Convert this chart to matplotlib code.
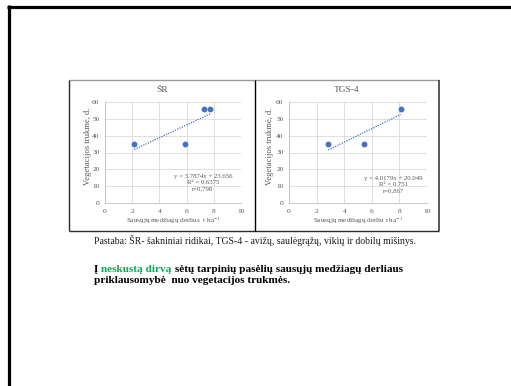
import matplotlib
matplotlib.use("Agg")
import matplotlib.pyplot as plt
from matplotlib.lines import Line2D
from matplotlib.text import Annotation
from matplotlib.transforms import Affine2D

# --- data -----------------------------------------------------------------
sr_yield = [2.15, 5.85, 7.3, 7.75]        # t/ha
sr_days = [35, 35, 56, 56]                # vegetation length, d
sr_slope, sr_intercept = 3.7874, 23.656
sr_r2, sr_r = "0.6375", "0,798"

tgs_yield = [2.85, 5.45, 8.1]
tgs_days = [35, 35, 56]
tgs_slope, tgs_intercept = 4.0179, 20.049
tgs_r2, tgs_r = "0.751", "0,867"

x_ticks = [0, 2, 4, 6, 8, 10]
y_ticks = [0, 10, 20, 30, 40, 50, 60]

W, H = 511, 386
plt.rcParams["font.family"] = ["Liberation Serif", "DejaVu Serif"]
plt.rcParams["mathtext.fontset"] = "stix"

fig = plt.figure(figsize=(W / 100, H / 100), dpi=100)
fig.patch.set_facecolor("white")
# pixel coordinates, origin at the top-left corner
pix = Affine2D().scale(1 / W, -1 / H).translate(0, 1) + fig.transFigure


def hline(x0, x1, y, color, lw):
    fig.add_artist(Line2D([x0, x1], [y, y], transform=pix, color=color, lw=lw,
                          solid_capstyle="butt"))


def vline(x, y0, y1, color, lw):
    fig.add_artist(Line2D([x, x], [y0, y1], transform=pix, color=color, lw=lw,
                          solid_capstyle="butt"))


# slide frame
hline(7, W, 6.5, "black", 2.3)
vline(8.5, 5, H, "black", 2.3)

# chart frame with two panels
hline(69, 439, 80, "#9a9a9a", 1.0)
hline(69, 439, 230.5, "#2b2b2b", 1.0)
vline(69, 80, 231, "#2b2b2b", 1.0)
vline(439, 80, 231, "#3a3a3a", 1.2)
vline(255, 80, 231, "black", 1.0)

GREY = "#595959"
BLUE = "#4472C4"


def panel(rect, xs, ys, slope, intercept, r2, r, title, title_x, xlabel,
          ylabel_x, eq_pos):
    x0, y0, x1, y1 = rect
    ax = fig.add_axes([x0 / W, 1 - y1 / H, (x1 - x0) / W, (y1 - y0) / H])
    ax.set_xlim(0, 10)
    ax.set_ylim(0, 60)
    ax.set_xticks(x_ticks)
    ax.set_yticks(y_ticks)
    ax.grid(True, color="#d9d9d9", lw=0.6)
    ax.set_axisbelow(True)
    for s in ("top", "right"):
        ax.spines[s].set_visible(False)
    for s in ("left", "bottom"):
        ax.spines[s].set_color("#bfbfbf")
        ax.spines[s].set_linewidth(0.6)
    ax.tick_params(length=0, labelsize=5.3, labelcolor=GREY, pad=4)

    ax.plot(xs, ys, "o", color=BLUE, ms=3.2, zorder=3)
    lo, hi = min(xs), max(xs)
    ax.plot([lo, hi], [slope * lo + intercept, slope * hi + intercept],
            ls=(0, (1, 1)), color=BLUE, lw=0.9, zorder=2)

    ax.text(eq_pos[0], eq_pos[1],
            f"y = {slope}x + {intercept}\nR² = {r2}\nr={r}",
            transform=ax.transAxes, ha="center", va="center",
            fontsize=4.9, color=GREY, linespacing=1.25)

    fig.text(title_x / W, 1 - 90 / H, title, ha="center", va="center",
             fontsize=6.8, color=GREY)
    fig.text((x0 + x1) / 2 / W, 1 - 220.5 / H, xlabel, ha="center",
             va="center", fontsize=5.1, color=GREY)
    fig.text(ylabel_x / W, 1 - 146 / H, "Vegetacijos trukmė, d.",
             rotation=90, ha="center", va="center", fontsize=6.2, color=GREY)
    return ax


panel((105, 102, 241, 203), sr_yield, sr_days, sr_slope, sr_intercept,
      sr_r2, sr_r, "ŠR", 162, r"Sausųjų medžiagų derlius  t ha$^{-1}$", 88,
      (0.72, 0.20))
panel((289, 102, 427, 203), tgs_yield, tgs_days, tgs_slope, tgs_intercept,
      tgs_r2, tgs_r, "TGS-4", 347, r"Sausųjų medžiagų derliu t ha$^{-1}$", 270,
      (0.754, 0.18))

# footnote
fig.text(94 / W, 1 - 240 / H,
         "Pastaba: ŠR- šakniniai ridikai, TGS-4 - avižų, saulėgrąžų, vikių ir dobilų mišinys.",
         ha="left", va="center", fontsize=7.0, color="#1a1a1a")

# caption; the soil type is highlighted in green, pieces are chained so they abut
CAP_SIZE = 8.1
pieces = [("Į ", "black"), ("neskustą dirvą", "#00B050"),
          (" sėtų tarpinių pasėlių sausųjų medžiagų derliaus", "black")]
cur = fig.text(94 / W, 1 - 274 / H, pieces[0][0], ha="left", va="bottom",
               fontsize=CAP_SIZE, fontweight="bold", color=pieces[0][1])
for txt, col in pieces[1:]:
    cur = fig.add_artist(Annotation(txt, xy=(1, 0), xycoords=cur,
                                    ha="left", va="bottom", fontsize=CAP_SIZE,
                                    fontweight="bold", color=col))
fig.text(94 / W, 1 - 285 / H, "priklausomybė  nuo vegetacijos trukmės.",
         ha="left", va="bottom", fontsize=CAP_SIZE, fontweight="bold",
         color="black")

fig.savefig("out.png", dpi=100, facecolor="white")
